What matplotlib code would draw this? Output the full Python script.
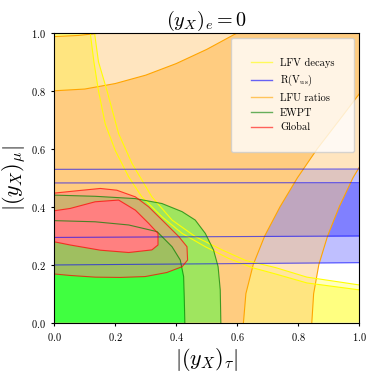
import numpy as np
import matplotlib
matplotlib.use("Agg")
import matplotlib.pyplot as plt
from matplotlib.lines import Line2D

plt.rcParams['font.family'] = 'serif'
plt.rcParams['font.serif'] = ['cmr10', 'DejaVu Serif']
plt.rcParams['mathtext.fontset'] = 'cm'
plt.rcParams['axes.formatter.use_mathtext'] = True

# ---- data ----
# LFV decays: 1 sigma / 2 sigma boundaries (allowed below the curve)
lfv1_x = [0.118, 0.13, 0.145, 0.167, 0.2, 0.244, 0.287, 0.353, 0.419, 0.495, 0.571, 0.648, 0.725, 0.828, 1.0]
lfv1_y = [1.0, 0.90, 0.80, 0.686, 0.594, 0.503, 0.434, 0.365, 0.308, 0.262, 0.222, 0.19, 0.168, 0.137, 0.113]
lfv2_x = [0.132, 0.145, 0.173, 0.211, 0.255, 0.32, 0.386, 0.462, 0.55, 0.626, 0.725, 0.828, 1.0]
lfv2_y = [1.0, 0.90, 0.80, 0.652, 0.549, 0.434, 0.354, 0.297, 0.251, 0.215, 0.19, 0.157, 0.13]

# R(Vus): horizontal bands, value at x=0 and x=1
rvus_x = [0.0, 1.0]
rvus2_lo = [0.199, 0.207]
rvus1_lo = [0.294, 0.299]
rvus1_hi = [0.482, 0.483]
rvus2_hi = [0.529, 0.530]

# LFU ratios: upper-left boundaries (y vs x) and right boundaries (x vs y)
lfu1_top_x = [0.0, 0.1, 0.2, 0.3, 0.4, 0.5, 0.6]
lfu1_top_y = [0.8, 0.806, 0.825, 0.854, 0.894, 0.943, 1.0]
lfu2_top_x = [0.0, 0.08, 0.16]
lfu2_top_y = [0.987, 0.991, 1.0]
lfu1_right_y = [0.0, 0.1, 0.2, 0.3, 0.4, 0.5, 0.6, 0.7, 0.79]
lfu1_right_x = [0.62, 0.628, 0.652, 0.69, 0.74, 0.797, 0.862, 0.935, 1.0]
lfu2_right_y = [0.0, 0.1, 0.2, 0.3, 0.4, 0.5, 0.537]
lfu2_right_x = [0.844, 0.85, 0.867, 0.896, 0.934, 0.979, 1.0]

# EWPT: 1 sigma / 2 sigma boundaries (allowed towards the origin)
ew1_x = [0.0, 0.134, 0.244, 0.337, 0.386, 0.413, 0.424, 0.426, 0.428]
ew1_y = [0.352, 0.348, 0.337, 0.314, 0.262, 0.216, 0.159, 0.09, 0.0]
ew2_x = [0.0, 0.134, 0.266, 0.353, 0.419, 0.462, 0.495, 0.522, 0.537, 0.544, 0.546]
ew2_y = [0.44, 0.436, 0.428, 0.411, 0.383, 0.354, 0.308, 0.251, 0.193, 0.113, 0.0]

# Global fit: closed contours
gl1_x = [0.0, 0.052, 0.134, 0.211, 0.266, 0.309, 0.34, 0.34, 0.32, 0.244, 0.151, 0.052, 0.0]
gl1_y = [0.386, 0.394, 0.417, 0.423, 0.388, 0.343, 0.308, 0.268, 0.251, 0.242, 0.25, 0.268, 0.279]
gl2_x = [0.0, 0.074, 0.151, 0.205, 0.266, 0.309, 0.364, 0.408, 0.435, 0.437, 0.419, 0.369, 0.298, 0.216, 0.134, 0.05, 0.0]
gl2_y = [0.447, 0.455, 0.463, 0.457, 0.434, 0.40, 0.343, 0.297, 0.262, 0.216, 0.193, 0.173, 0.159, 0.156, 0.157, 0.163, 0.168]

labels = ["LFV decays", r"R(V$_{\rm us}$)", "LFU ratios", "EWPT", "Global"]
ticks = [0.0, 0.2, 0.4, 0.6, 0.8, 1.0]
xlim = [0.0, 1.0]
ylim = [0.0, 1.0]

fill_col = {"lfv": "#ffff80", "rvus": "#8080ff", "lfu": "#ffcc80", "ew": "#40ff40", "gl": "#ff8080"}
line_col = {"lfv": "yellow", "rvus": "blue", "lfu": "orange", "ew": "green", "gl": "red"}

fig = plt.figure(figsize=(3.74, 3.73), dpi=100)
ax = fig.add_axes([0.145, 0.135, 0.816, 0.777])
x0, x1 = xlim
y0, y1 = ylim

# LFV regions (below the curves)
ax.fill([x0] + lfv2_x + [x1, x0], [y1] + lfv2_y + [y0, y0], color=fill_col["lfv"], alpha=0.5, lw=0)
ax.fill([x0] + lfv1_x + [x1, x0], [y1] + lfv1_y + [y0, y0], color=fill_col["lfv"], lw=0)

# R(Vus) bands
ax.fill_between(rvus_x, rvus2_lo, rvus2_hi, color=fill_col["rvus"], alpha=0.5, lw=0)
ax.fill_between(rvus_x, rvus1_lo, rvus1_hi, color=fill_col["rvus"], lw=0)

# LFU regions
ax.fill([x0] + lfu2_right_x + [x1] + lfu2_top_x[::-1],
        [y0] + lfu2_right_y + [y1] + lfu2_top_y[::-1], color=fill_col["lfu"], alpha=0.5, lw=0)
ax.fill([x0] + lfu1_right_x + [x1] + lfu1_top_x[::-1],
        [y0] + lfu1_right_y + [y1] + lfu1_top_y[::-1], color=fill_col["lfu"], lw=0)

# EWPT regions
ax.fill([x0] + ew2_x, [y0] + ew2_y, color=fill_col["ew"], alpha=0.5, lw=0)
ax.fill([x0] + ew1_x, [y0] + ew1_y, color=fill_col["ew"], lw=0)

# global fit
ax.fill(gl2_x, gl2_y, color=fill_col["gl"], alpha=0.5, lw=0)
ax.fill(gl1_x, gl1_y, color=fill_col["gl"], lw=0)

# contour lines on top
lw = 0.8
ax.plot(lfu1_top_x, lfu1_top_y, color=line_col["lfu"], lw=lw)
ax.plot(lfu2_top_x, lfu2_top_y, color=line_col["lfu"], lw=lw)
ax.plot(lfu1_right_x, lfu1_right_y, color=line_col["lfu"], lw=lw)
ax.plot(lfu2_right_x, lfu2_right_y, color=line_col["lfu"], lw=lw)
ax.plot(lfv1_x, lfv1_y, color=line_col["lfv"], lw=lw)
ax.plot(lfv2_x, lfv2_y, color=line_col["lfv"], lw=lw)
for yy in [rvus2_lo, rvus1_lo, rvus1_hi, rvus2_hi]:
    ax.plot(rvus_x, yy, color=line_col["rvus"], lw=lw, alpha=0.6)
ax.plot(ew1_x, ew1_y, color=line_col["ew"], lw=lw, alpha=0.7)
ax.plot(ew2_x, ew2_y, color=line_col["ew"], lw=lw, alpha=0.7)
ax.plot(gl1_x, gl1_y, color=line_col["gl"], lw=lw, alpha=0.7)
ax.plot(gl2_x, gl2_y, color=line_col["gl"], lw=lw, alpha=0.7)

ax.set_xlim(xlim)
ax.set_ylim(ylim)
ax.set_xticks(ticks)
ax.set_yticks(ticks)
ax.tick_params(labelsize=7.5, length=2.5, width=0.8)
ax.set_xlabel(r"$|(y_X)_\tau|$", fontsize=16, labelpad=2)
ax.set_ylabel(r"$|(y_X)_\mu|$", fontsize=16, labelpad=2)
ax.set_title(r"$(y_X)_e = 0$", fontsize=14.5, pad=5)

handles = [Line2D([0], [0], color=line_col[k], lw=1, alpha=0.6) for k in ["lfv", "rvus", "lfu", "ew", "gl"]]
ax.legend(handles, labels, loc="upper right", fontsize=7.5, borderpad=1.9)

fig.savefig("out.png", dpi=100)
